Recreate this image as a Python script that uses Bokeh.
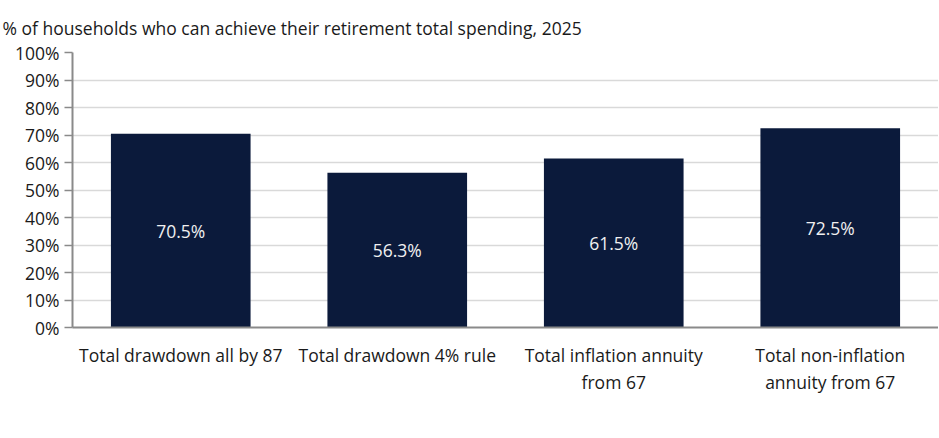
from bokeh.plotting import figure
from bokeh.models import ColumnDataSource, Title, LinearAxis, Range1d, FixedTicker
from bokeh.core.properties import value
from bokeh.embed import file_html
from bokeh.resources import INLINE

categories = ["Total drawdown all by 87", "Total drawdown 4% rule",
              "Total inflation annuity from 67", "Total non-inflation annuity from 67"]
label_line1 = ["Total drawdown all by 87", "Total drawdown 4% rule",
               "Total inflation annuity", "Total non-inflation"]
label_line2 = ["", "", "from 67", "annuity from 67"]
values = [70.5, 56.3, 61.5, 72.5]
y_ticks = [0, 10, 20, 30, 40, 50, 60, 70, 80, 90, 100]
title_text = "% of households who can achieve their retirement total spending, 2025"

FONT = "Open Sans"
FS = "17.5px"
BAR = "#0b1a3b"
TXT = "#1a1a1a"
AX = "#8a8a8a"

n = len(categories)
xpos = [i + 0.5 for i in range(n)]  # category centres on a 0..n axis

src = ColumnDataSource(dict(
    x=xpos,
    cat=categories,
    val=values,
    mid=[v / 2 for v in values],
    lab=[f"{v:.1f}%" for v in values],
))

p = figure(width=938, height=410, x_range=Range1d(0, n), y_range=Range1d(0, 100),
           output_backend="svg", toolbar_location=None,
           min_border_left=72, min_border_right=0, min_border_top=52, min_border_bottom=83)
p.outline_line_color = None

p.title = Title(text=title_text, text_font=FONT, text_font_size=FS, text_font_style="normal",
                text_color=TXT, offset=-70, standoff=22, vertical_align="top")

p.vbar(x="x", top="val", width=0.645, source=src, fill_color=BAR, line_color=None)
p.text(x="x", y="mid", text="lab", source=src, text_align="center", text_baseline="middle",
       text_color="#f0f0f0", text_font=value(FONT), text_font_size=FS)

# y axis
p.yaxis.ticker = FixedTicker(ticks=y_ticks)
p.yaxis.major_label_overrides = {v: f"{v}%" for v in y_ticks}
p.yaxis.major_tick_in = 0
p.yaxis.major_tick_out = 8
p.yaxis.minor_tick_line_color = None
p.yaxis.axis_line_color = AX
p.yaxis.axis_line_width = 2
p.yaxis.major_tick_line_color = AX
p.yaxis.major_tick_line_width = 1.5
p.yaxis.major_label_text_font = FONT
p.yaxis.major_label_text_font_size = FS
p.yaxis.major_label_text_color = TXT
p.yaxis.major_label_standoff = 5

# x axis, first line of the category labels
p.xaxis.ticker = FixedTicker(ticks=xpos)
p.xaxis.major_label_overrides = {k: v for k, v in zip(xpos, label_line1)}
p.xaxis.major_tick_line_color = None
p.xaxis.minor_tick_line_color = None
p.xaxis.axis_line_color = AX
p.xaxis.axis_line_width = 2
p.xaxis.major_label_text_font = FONT
p.xaxis.major_label_text_font_size = FS
p.xaxis.major_label_text_color = TXT
p.xaxis.major_label_text_line_height = 1.0
p.xaxis.major_label_standoff = 9

# second line of the category labels on an extra axis
pos2 = [x for x, s in zip(xpos, label_line2) if s]
txt2 = [s for s in label_line2 if s]
ax2 = LinearAxis(ticker=FixedTicker(ticks=pos2),
                 major_label_overrides={k: v for k, v in zip(pos2, txt2)})
ax2.axis_line_color = None
ax2.major_tick_line_color = None
ax2.minor_tick_line_color = None
ax2.major_label_text_font = FONT
ax2.major_label_text_font_size = FS
ax2.major_label_text_color = TXT
ax2.major_label_text_line_height = 1.0
ax2.major_label_standoff = -6
p.add_layout(ax2, "below")

p.xgrid.grid_line_color = None
p.ygrid.grid_line_color = "#d9d9d9"
p.ygrid.grid_line_width = 1.5

open("out.html", "w").write(file_html(p, INLINE))
